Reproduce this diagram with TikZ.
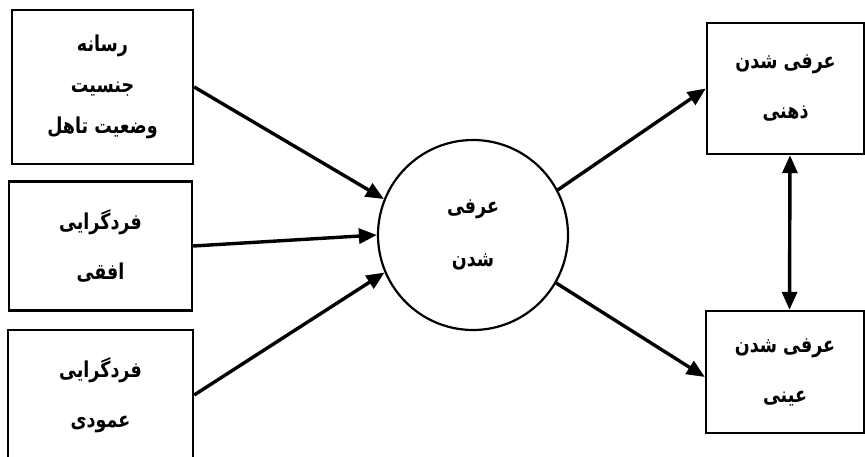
\documentclass[tikz,border=0pt]{standalone}
\usepackage{fontspec}
\usepackage{graphicx}
\TeXXeTstate=1
\newfontfamily\arabicfont[Script=Arabic]{DejaVu Sans}
\usetikzlibrary{arrows.meta}
\tikzset{
  box/.style={draw, line width=2.4pt, inner sep=0pt, align=center, font=\arabicfont\bfseries\fontsize{17.5}{41}\selectfont},
  twoline/.style={font=\arabicfont\bfseries\fontsize{17.5}{50}\selectfont},
  circ/.style={draw, circle, line width=2.2pt, inner sep=0pt, minimum size=190pt, align=center, font=\arabicfont\bfseries\fontsize{17.5}{53}\selectfont},
  arr/.style={line width=3.4pt, -{Triangle[length=18pt,width=15pt]}},
  darr/.style={line width=3.4pt, {Triangle[length=18pt,width=15pt]}-{Triangle[length=18pt,width=15pt]}}
}
\newcommand{\rl}[1]{\scalebox{1}[1.25]{\beginR #1\endR}}
\begin{document}
\begin{tikzpicture}[x=1pt,y=-1pt]
\useasboundingbox (0,0) rectangle (865,457);
\node[box, minimum width=181pt, minimum height=154pt] (b1) at (102.5,87) {\rl{رسانه}\\\rl{جنسیت}\\\rl{وضعیت تاهل}};
\node[box, twoline, minimum width=183pt, minimum height=129pt] (b2) at (100.5,246) {\rl{فردگرایی}\\\rl{افقی}};
\node[box, twoline, minimum width=185pt, minimum height=130pt] (b3) at (100.5,395) {\rl{فردگرایی}\\\rl{عمودی}};
\node[circ] (c) at (473,235) {\rl{عرفی}\\\rl{شدن}};
\node[box, twoline, minimum width=157pt, minimum height=131pt] (tr) at (785.5,88.5) {\rl{عرفی شدن}\\\rl{ذهنی}};
\node[box, twoline, minimum width=158pt, minimum height=122pt] (br) at (785,372) {\rl{عرفی شدن}\\\rl{عینی}};
\draw[arr] (b1.east) -- (c.158.7);
\draw[arr] (b2.east) -- (c.west);
\draw[arr] (b3.east) -- (c.203);
\draw[arr] (c.28) -- (tr.west);
\draw[arr] (c.-30) -- ([yshift=-5pt]br.west);
\draw[darr] ([xshift=4.5pt]tr.south) -- ([xshift=4.5pt]br.north);
\end{tikzpicture}
\end{document}
